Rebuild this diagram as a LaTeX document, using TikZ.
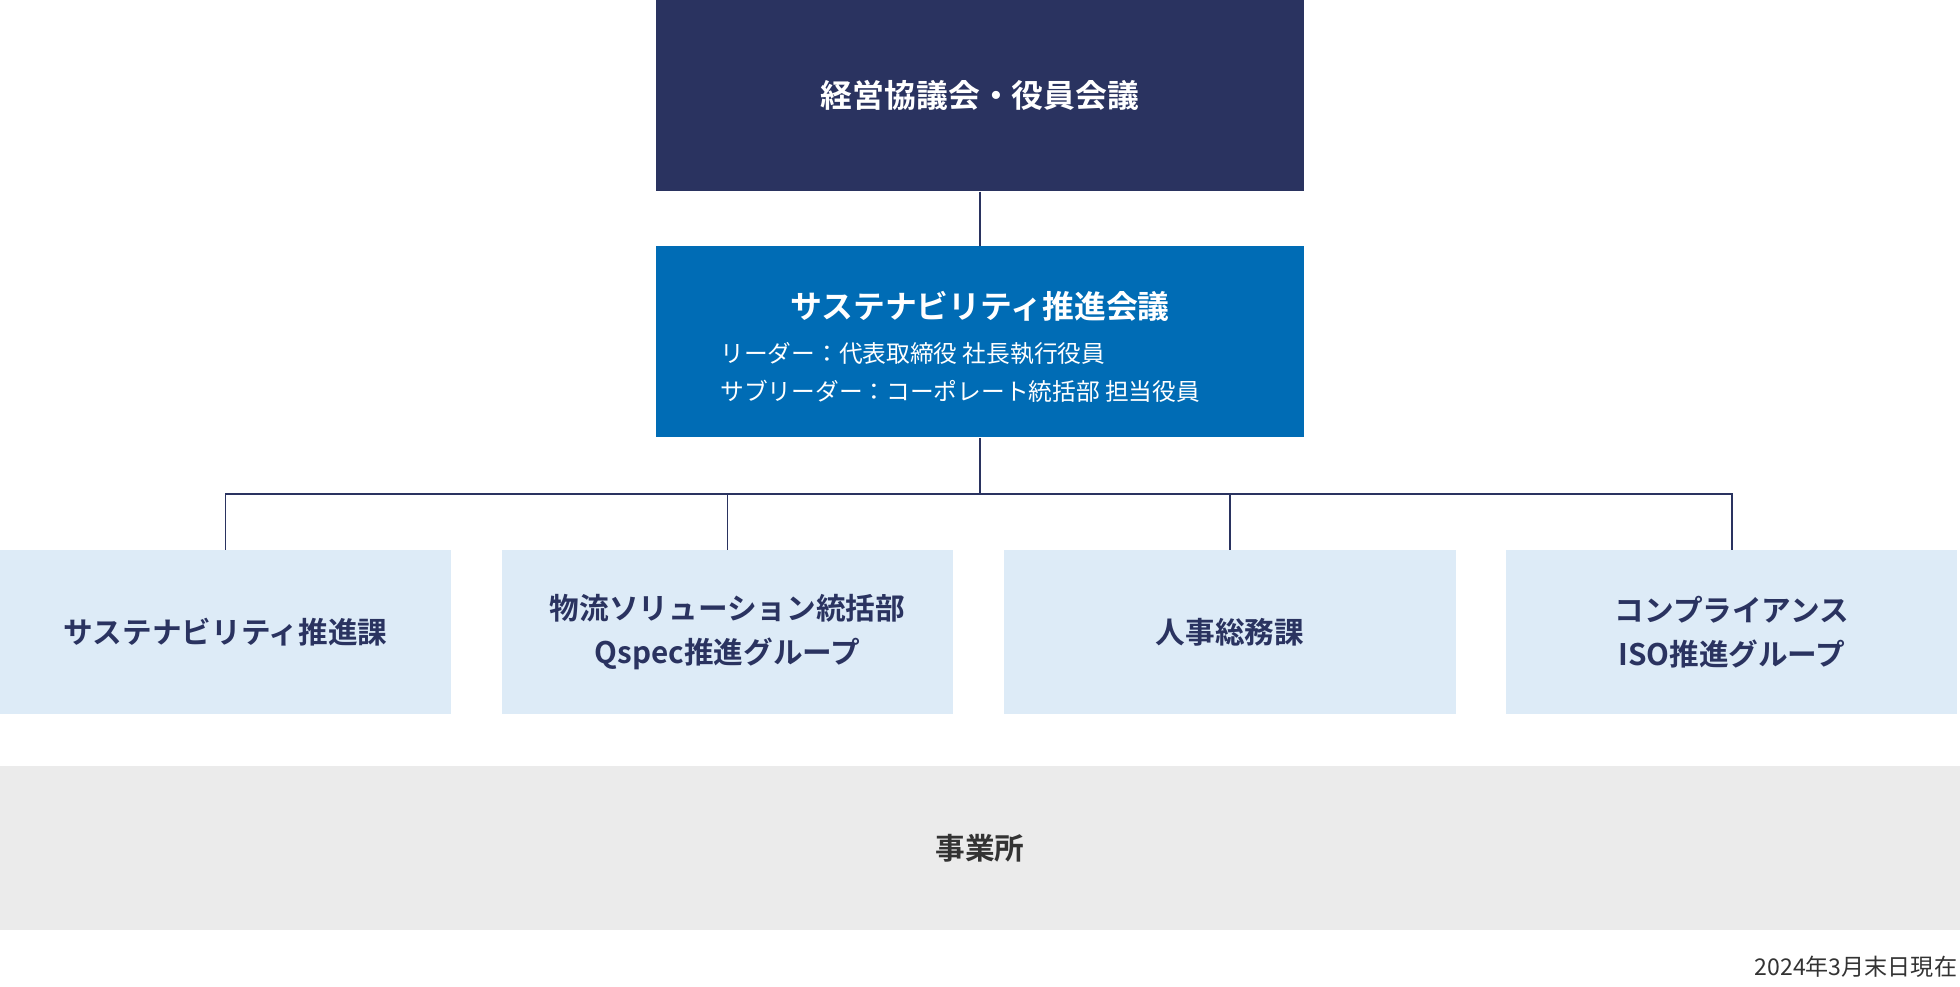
\documentclass[tikz,border=0pt]{standalone}
\usepackage{fontspec}
\setmainfont{Noto Sans CJK JP}[BoldFont={Noto Sans CJK JP Bold}]
\usetikzlibrary{positioning}
\definecolor{navy}{HTML}{2A3360}
\definecolor{corpblue}{HTML}{006CB5}
\definecolor{paleblue}{HTML}{DDEBF7}
\definecolor{palegray}{HTML}{EBEBEB}
\definecolor{darktext}{HTML}{333333}
\tikzstyle{headbox} = [minimum height=3.06cm, minimum width=10.36cm, inner sep=0pt, text centered, align=center]
\tikzstyle{unitbox} = [minimum height=2.62cm, minimum width=7.22cm, inner sep=0pt, text centered, align=center, fill=paleblue, text=navy, font=\bfseries\fontsize{13.5}{20}\selectfont]
\tikzstyle{link} = [draw=navy, line width=0.7pt]

\begin{document}
\begin{tikzpicture}[x=0.02cm, y=-0.02cm]
    \useasboundingbox (0,0) rectangle (1568,789);
    \node[headbox, fill=navy, text=white, font=\bfseries\fontsize{14.5}{18}\selectfont](top) at (784,76.5){経営協議会・役員会議};
    \node[headbox, fill=corpblue](sust) at (784,273.5){};
    \node[text=white, font=\bfseries\fontsize{14.5}{18}\selectfont](susttitle) at (784,245){サステナビリティ推進会議};
    \node[text=white, anchor=west, align=left, inner sep=0pt, font=\fontsize{10.8}{17}\selectfont](sustsub) at (576,298){リーダー：代表取締役 社長執行役員\\サブリーダー：コーポレート統括部 担当役員};

    \node[unitbox](u1) at (180.5,505.5){サステナビリティ推進課};
    \node[unitbox](u2) at (582,505.5){物流ソリューション統括部\\Qspec推進グループ};
    \node[unitbox](u3) at (984,505.5){人事総務課};
    \node[unitbox](u4) at (1385.5,505.5){コンプライアンス\\ISO推進グループ};

    \node[minimum height=2.62cm, minimum width=31.36cm, inner sep=0pt, fill=palegray, text=darktext, font=\bfseries\fontsize{13.5}{18}\selectfont](site) at (784,678.5){事業所};
    \node[anchor=east, inner sep=0pt, text=darktext, font=\fontsize{10.5}{12}\selectfont](date) at (1566,773){2024年3月末日現在};

    \coordinate (bus) at (784,395);
    \draw[link] (top) -- (sust);
    \draw[link] (sust) -- (bus);
    \foreach \u in {u1,u2,u3,u4}
        \draw[link] (bus) -| (\u.north);
\end{tikzpicture}
\end{document}
